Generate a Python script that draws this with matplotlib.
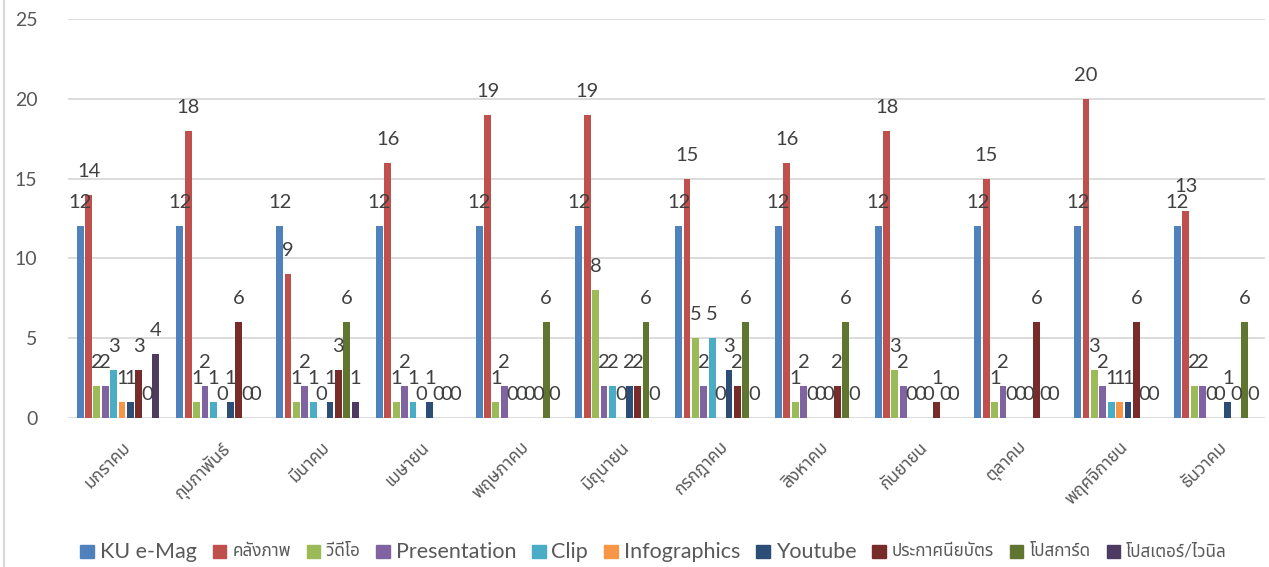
import matplotlib
matplotlib.use('Agg')
import matplotlib.pyplot as plt
import matplotlib.transforms as mtransforms
from matplotlib import font_manager
from matplotlib.ft2font import FT2Font
from matplotlib.lines import Line2D
from matplotlib.patches import Rectangle
import numpy as np

months = ['มกราคม', 'กุมภาพันธ์', 'มีนาคม', 'เมษายน', 'พฤษภาคม', 'มิถุนายน',
          'กรกฎาคม', 'สิงหาคม', 'กันยายน', 'ตุลาคม', 'พฤศจิกายน', 'ธันวาคม']
series = ['KU e-Mag', 'คลังภาพ', 'วีดีโอ', 'Presentation', 'Clip', 'Infographics',
          'Youtube', 'ประกาศนียบัตร', 'โปสการ์ด', 'โปสเตอร์/ไวนิล']
colors = ['#4F81BD', '#C0504D', '#9BBB59', '#8064A2', '#4BACC6', '#F79646',
          '#2C4D75', '#772C2A', '#5F7530', '#4D3B62']

ku_emag = [12, 12, 12, 12, 12, 12, 12, 12, 12, 12, 12, 12]
photos = [14, 18, 9, 16, 19, 19, 15, 16, 18, 15, 20, 13]
video = [2, 1, 1, 1, 1, 8, 5, 1, 3, 1, 3, 2]
presentation = [2, 2, 2, 2, 2, 2, 2, 2, 2, 2, 2, 2]
clip = [3, 1, 1, 1, 0, 2, 5, 0, 0, 0, 1, 0]
infographics = [1, 0, 0, 0, 0, 0, 0, 0, 0, 0, 1, 0]
youtube = [1, 1, 1, 1, 0, 2, 3, 0, 0, 0, 1, 1]
certificate = [3, 6, 3, 0, 0, 2, 2, 2, 1, 6, 6, 0]
postcard = [0, 0, 6, 0, 6, 6, 6, 6, 0, 0, 0, 6]
poster = [4, 0, 1, 0, 0, 0, 0, 0, 0, 0, 0, 0]
values = [ku_emag, photos, video, presentation, clip, infographics,
          youtube, certificate, postcard, poster]


def thai_family():
    prefer = ['Noto Sans Thai', 'Noto Sans Thai UI', 'Loma', 'Garuda', 'Norasi',
              'Kinnari', 'Sawasdee', 'Umpush', 'Waree', 'Laksaman']
    found = []
    for f in font_manager.fontManager.ttflist:
        try:
            if ord('ก') in FT2Font(f.fname).get_charmap():
                found.append(f.name)
        except Exception:
            pass
    for p in prefer:
        if p in found:
            return p
    return found[0] if found else None


thai = thai_family()
fams = ['Lato'] + ([thai] if thai else []) + ['DejaVu Sans']
plt.rcParams['font.family'] = fams

W, H = 1269, 567
fig = plt.figure(figsize=(W / 100, H / 100), dpi=100)
ax = fig.add_axes([68 / W, 1 - 418 / H, (1265 - 68) / W, (418 - 19) / H])

x = np.arange(len(months))
slot = 0.084
for i, (name, vals) in enumerate(zip(series, values)):
    pos = x - 5 * slot + slot / 2 + i * slot
    ax.bar(pos, vals, width=slot * 0.82, color=colors[i], label=name, zorder=2)
    for p, v in zip(pos, vals):
        ax.annotate(str(v), (p, v), xytext=(0, 13), textcoords='offset points',
                    ha='center', va='baseline', fontsize=14.5, color='#404040', zorder=3)

ax.set_xlim(-0.5, len(months) - 0.5)
ax.set_ylim(0, 25)
ax.set_yticks(range(0, 26, 5))
ax.yaxis.grid(True, color='#D9D9D9', linewidth=1.3, zorder=0)
ax.set_axisbelow(True)
for s in ax.spines.values():
    s.set_visible(False)
ax.tick_params(axis='y', length=0, pad=22, labelsize=14, labelcolor='#595959')
ax.set_xticks(x)
ax.set_xticklabels(months, rotation=45, ha='right', va='top', rotation_mode='anchor',
                   fontsize=12.5, color='#595959')
ax.tick_params(axis='x', length=0, pad=15)
shift = mtransforms.ScaledTranslation(4 / 100, 0, fig.dpi_scale_trans)
for lab in ax.get_xticklabels():
    lab.set_transform(lab.get_transform() + shift)

fig.add_artist(Line2D([4 / W, 4 / W], [0, 1], color='#D9D9D9', linewidth=1.5))

# legend laid out by hand: square, gap, text, gap
renderer = fig.canvas.get_renderer()
leg_y = 551.5
box = 13.5
items = []
cur = 0.0
for name, c in zip(series, colors):
    is_thai = any('\u0e00' <= ch <= '\u0e7f' for ch in name)
    t = fig.text(0, 0, name, fontsize=12.3 if is_thai else 15.5, color='#595959',
                 ha='left', va='center')
    wpx = t.get_window_extent(renderer).width
    items.append((cur, t, c))
    cur += box + 6 + wpx + 16
total = cur - 16
start = 653.5 - total / 2
for off, t, c in items:
    mx = start + off
    fig.add_artist(Rectangle((mx / W, 1 - (leg_y + box / 2) / H), box / W, box / H,
                             transform=fig.transFigure, color=c))
    t.set_position(((mx + box + 6) / W, 1 - leg_y / H))

fig.savefig('out.png', dpi=100)
